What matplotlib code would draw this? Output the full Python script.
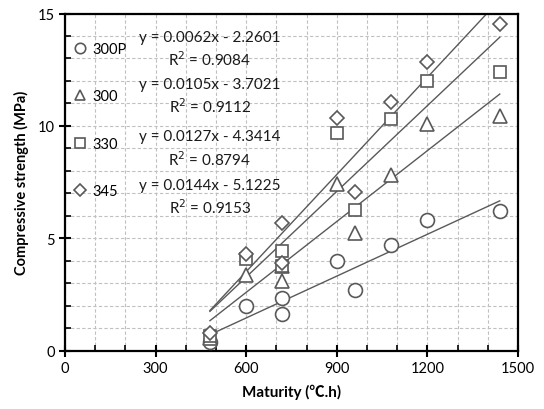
import matplotlib
matplotlib.use("Agg")
import matplotlib.pyplot as plt
import numpy as np
from matplotlib.ticker import MultipleLocator

plt.rcParams['font.family'] = ['Lato', 'Noto Sans CJK SC', 'DejaVu Sans']

maturity = [480, 600, 720, 720, 900, 960, 1080, 1200, 1440]

s300p = [0.38, 2.0, 2.33, 1.63, 4.0, 2.7, 4.7, 5.8, 6.2]
s300 = [0.55, 3.35, 3.1, 3.75, 7.4, 5.25, 7.8, 10.1, 10.45]
s330 = [0.65, 4.1, 4.45, 3.75, 9.7, 6.25, 10.3, 12.0, 12.4]
s345 = [0.8, 4.3, 5.7, 3.9, 10.35, 7.05, 11.05, 12.85, 14.55]

names = ['300P', '300', '330', '345']
markers = ['o', '^', 's', 'D']
sizes = [10, 10, 9, 7.5]
slopes = [0.0062, 0.0105, 0.0127, 0.0144]
intercepts = [-2.2601, -3.7021, -4.3414, -5.1225]
r2 = [0.9084, 0.9112, 0.8794, 0.9153]
fit_range = [480, 1440]

fig = plt.figure(figsize=(5.44, 4.10), dpi=100)
ax = fig.add_axes([0.1195, 0.142, 0.8325, 0.8226])

gray = '#595959'
for vals, name, m, ms, k, b in zip([s300p, s300, s330, s345], names, markers, sizes, slopes, intercepts):
    ax.plot(maturity, vals, linestyle='none', marker=m, markersize=ms, markerfacecolor='white',
            markeredgecolor=gray, markeredgewidth=1.2, label=name, zorder=3)
    xf = np.array(fit_range)
    ax.plot(xf, k * xf + b, color=gray, linewidth=1.0, zorder=2)

ax.set_xlim(0, 1500)
ax.set_ylim(0, 15)
ax.xaxis.set_major_locator(MultipleLocator(300))
ax.xaxis.set_minor_locator(MultipleLocator(100))
ax.yaxis.set_major_locator(MultipleLocator(5))
ax.yaxis.set_minor_locator(MultipleLocator(1))
ax.grid(which='both', linestyle=(0, (3, 2)), color='#c0c0c0', linewidth=0.8, zorder=0)
ax.set_axisbelow(True)
ax.tick_params(which='major', direction='inout', length=8, width=1.5, labelsize=10.5, colors='black')
ax.tick_params(which='minor', direction='in', length=4, width=1.2)
for sp in ax.spines.values():
    sp.set_linewidth(1.6)
    sp.set_color('black')

ax.set_xlabel('Maturity (℃.h)', fontsize=11, fontweight='bold', labelpad=6)
ax.set_ylabel('Compressive strength (MPa)', fontsize=10.5, fontweight='bold', labelpad=6)

ax.legend(loc='upper left', bbox_to_anchor=(-0.008, 0.955), frameon=False, fontsize=10.5,
          labelspacing=2.3, handletextpad=0.45, handlelength=0.8, markerscale=0.75)

eq_y = [0.931, 0.792, 0.636, 0.493]
for k, b, r, yy in zip(slopes, intercepts, r2, eq_y):
    ax.text(0.32, yy, f'y = {k:.4f}x - {abs(b):.4f}', transform=ax.transAxes, ha='center',
            va='center', fontsize=11, color='#1a1a1a')
    ax.text(0.32, yy - 0.065, f'R$^2$ = {r:.4f}', transform=ax.transAxes, ha='center',
            va='center', fontsize=11, color='#1a1a1a')

fig.savefig('out.png', dpi=100)
